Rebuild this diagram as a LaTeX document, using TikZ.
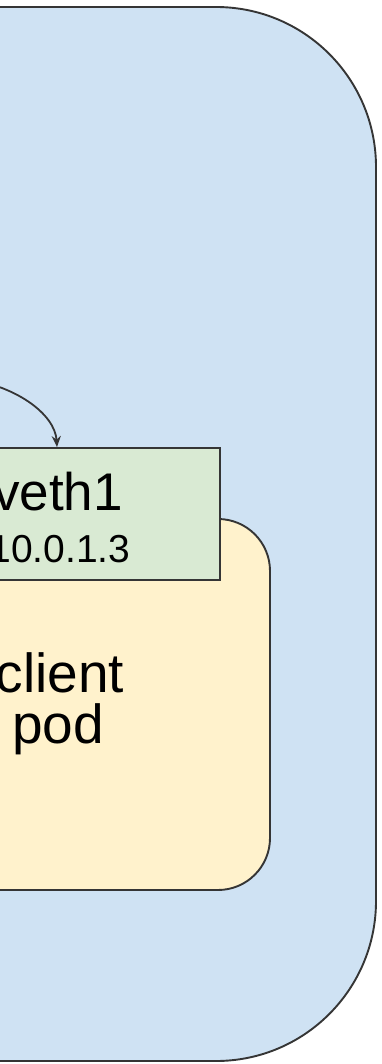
\documentclass[tikz,border=0pt]{standalone}
\usepackage{fontspec}
\setmainfont{Liberation Sans}
\usetikzlibrary{arrows.meta}

\definecolor{hostblue}{HTML}{CFE2F3}
\definecolor{podyellow}{HTML}{FFF2CC}
\definecolor{vethgreen}{HTML}{D9EAD3}
\definecolor{edgegray}{HTML}{353535}

\tikzset{
  box/.style={draw=edgegray, line width=1.9pt, inner sep=0pt, rectangle},
  link/.style={draw=edgegray, line width=1.8pt, -{Stealth[length=11pt,width=9pt]}}
}

\begin{document}
\begin{tikzpicture}[x=1pt, y=-1pt]
  \useasboundingbox (0,0) rectangle (382,1064);
  \clip (0,0) rectangle (382,1064);

  % host and pod
  \node[box, fill=hostblue, rounded corners=160pt, minimum width=676pt, minimum height=1054pt] (host) at (38,534) {};
  \node[box, fill=podyellow, rounded corners=52pt, minimum width=430pt, minimum height=371pt] (pod) at (55,704.5) {};
  \node[box, fill=vethgreen, minimum width=324pt, minimum height=132pt] (veth) at (58,514) {};

  % link into veth1
  \coordinate (src) at (-40,378);
  \draw[link] (src) .. controls (15,384) and (55,414) .. (veth.north -| 57,0);

  % labels
  \node[anchor=base, inner sep=0pt, font=\fontsize{53}{60}\selectfont] (vethname) at (58,510) {veth1};
  \node[anchor=base, inner sep=0pt, font=\fontsize{39}{45}\selectfont] (vethip) at (60,562) {10.0.1.3};
  \node[anchor=base, inner sep=0pt, font=\fontsize{55}{62}\selectfont] (podname) at (60,692) {client};
  \node[anchor=base, inner sep=0pt, font=\fontsize{55}{62}\selectfont] (podkind) at (58,743) {pod};
\end{tikzpicture}
\end{document}
